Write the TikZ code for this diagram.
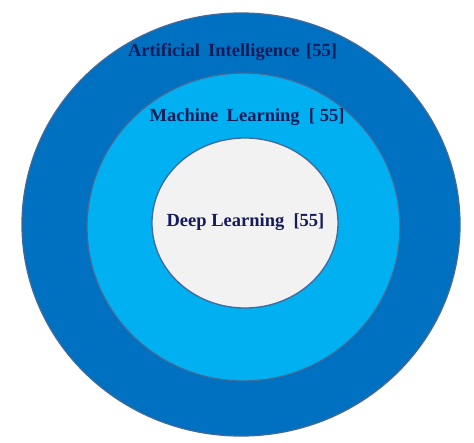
\documentclass[tikz,border=0pt]{standalone}
\usepackage{fontspec}
\setmainfont{Liberation Serif}
\definecolor{aiblue}{RGB}{0,112,192}
\definecolor{mlblue}{RGB}{0,176,240}
\definecolor{dlgray}{RGB}{242,242,242}
\definecolor{rimcol}{RGB}{65,105,155}
\definecolor{txtcol}{RGB}{22,28,90}
\tikzset{
  ring/.style={draw=rimcol, line width=1.3pt},
  lbl/.style={anchor=base, text=txtcol, font=\fontsize{18.5}{22}\selectfont\bfseries, inner sep=0pt}
}
\begin{document}
\begin{tikzpicture}[x=1pt,y=1pt]
\useasboundingbox (0,0) rectangle (474,442);
\fill[white] (0,0) rectangle (474,442);
\draw[ring, fill=aiblue] (241,217.5) ellipse [x radius=219, y radius=211.5];
\draw[ring, fill=mlblue] (243.5,215) ellipse [x radius=156.5, y radius=154];
\draw[ring, fill=dlgray] (245,219) ellipse [x radius=93, y radius=85];
\node[lbl] (ai) at (232.5,385.3) {Artificial\hspace{0.45em}Intelligence\hspace{0.35em}[55]};
\node[lbl] (ml) at (247,320) {Machine\hspace{0.45em}Learning\hspace{0.5em}[ 55]};
\node[lbl] (dl) at (245.5,215.3) {Deep Learning\hspace{0.5em}[55]};
\end{tikzpicture}
\end{document}
